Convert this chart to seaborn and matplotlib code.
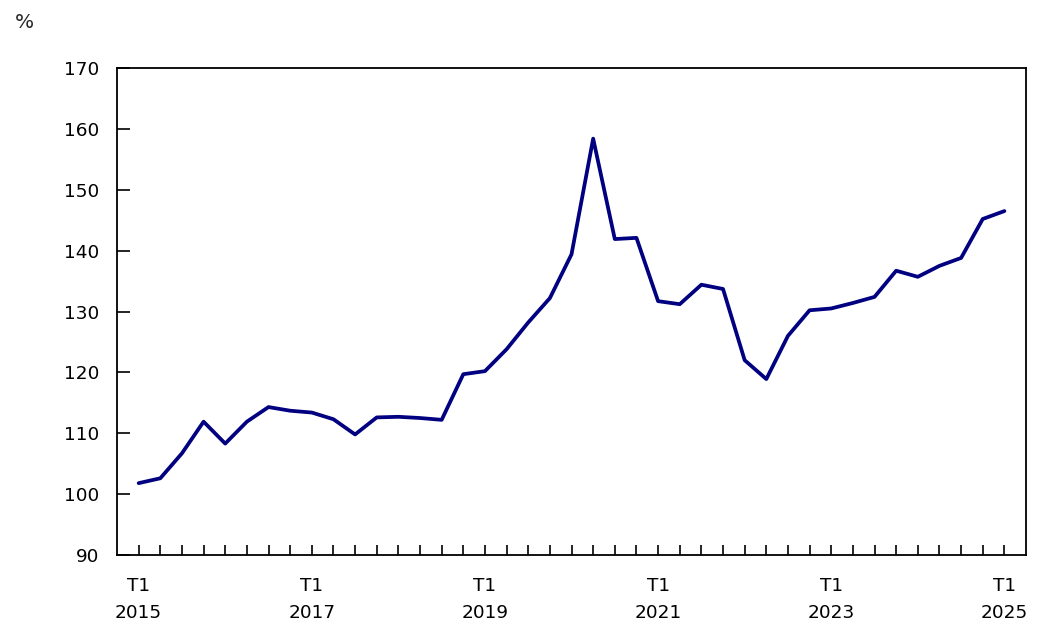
import numpy as np
import pandas as pd
import seaborn as sns
import matplotlib.pyplot as plt

# quarterly values, 2015 T1 to 2025 T1
years = list(range(2015, 2026))
quarters = [f"{y}T{q}" for y in years for q in range(1, 5)][:41]
values = [101.8, 102.6, 106.7, 111.9, 108.3, 111.9, 114.3, 113.7, 113.4, 112.3,
          109.8, 112.6, 112.7, 112.5, 112.2, 119.7, 120.2, 123.8, 128.2, 132.2,
          139.4, 158.4, 141.9, 142.1, 131.7, 131.2, 134.4, 133.7, 122.0, 118.9,
          126.0, 130.2, 130.5, 131.4, 132.4, 136.7, 135.7, 137.5, 138.8, 145.2,
          146.5]
label_years = [2015, 2017, 2019, 2021, 2023, 2025]

df = pd.DataFrame({'quarter': quarters, 'value': values})
df['idx'] = range(len(df))

sns.set_style("white")
plt.rcParams['font.family'] = ['DejaVu Sans']

fig = plt.figure(figsize=(10.57, 6.43), dpi=100)
ax = fig.add_axes([0.1107, 0.1369, 0.8600, 0.7573])

sns.lineplot(data=df, x='idx', y='value', color='#000080', linewidth=2.7, ax=ax)

ax.set_xlim(-1, 41)
ax.set_ylim(90, 170)
ax.set_yticks(range(90, 171, 10))
ax.set_xticks(df['idx'])
xlabels = [f"T1\n{q[:4]}" if q.endswith('T1') and int(q[:4]) in label_years else '' for q in quarters]
ax.set_xticklabels(xlabels, linespacing=1.6)
ax.tick_params(axis='x', bottom=True, direction='in', length=7, width=1.2, pad=16, labelsize=13.3, colors='black')
ax.tick_params(axis='y', left=True, direction='in', length=9, width=1.2, pad=13, labelsize=13.3, colors='black')
ax.set_xlabel('')
ax.set_ylabel('')
for s in ax.spines.values():
    s.set_visible(True)
    s.set_color('black')
    s.set_linewidth(1.3)

fig.text(0.014, 0.965, '%', fontsize=14.5, va='center', ha='left')

fig.savefig('out.png', dpi=100)
